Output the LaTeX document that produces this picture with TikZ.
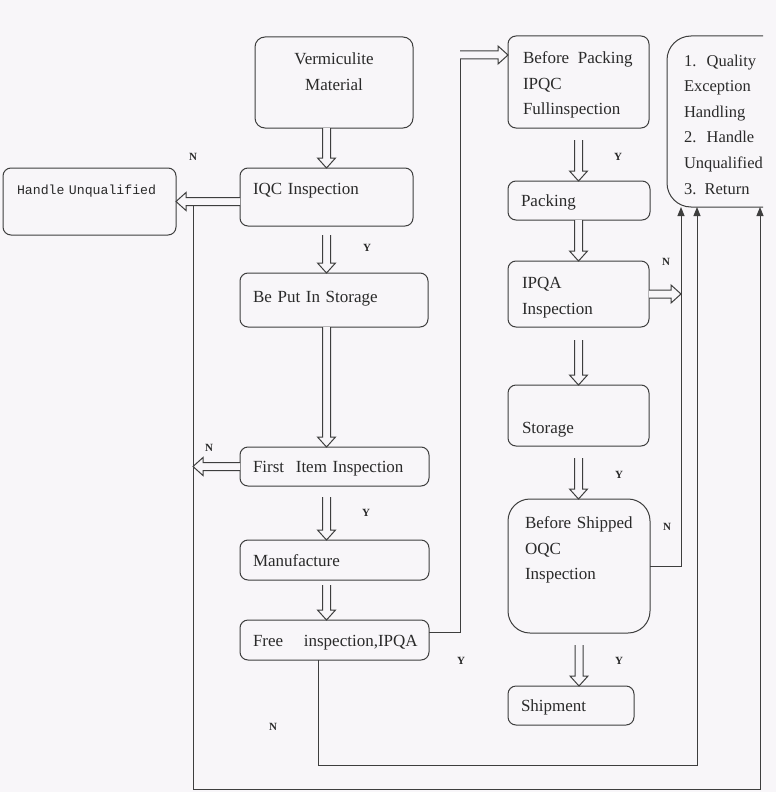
\documentclass[tikz,border=0pt]{standalone}
\usepackage{fontspec}
\setmainfont{Liberation Serif}
\newfontfamily\monof{Liberation Mono}
\usetikzlibrary{calc,arrows.meta}
\definecolor{bgc}{HTML}{F8F6F9}
\definecolor{linec}{HTML}{3E3E3E}
\definecolor{txtc}{HTML}{2A2A2A}
\newcommand{\arrsw}{4pt}
\newcommand{\arrhw}{9pt}
\newcommand{\arrhl}{10pt}
\begin{document}
\begin{tikzpicture}[x=1pt,y=-1pt,
  box/.style={draw=linec, line width=1pt, rounded corners=8pt, anchor=north west,
    inner ysep=0pt, outer sep=0pt, align=left, text=txtc,
    font=\fontsize{17}{25.5}\selectfont},
  lab/.style={font=\fontsize{11}{12}\selectfont\bfseries, text=txtc, inner sep=0pt},
  conn/.style={draw=linec, line width=1pt},
  tip/.style={-{Triangle[length=9pt,width=7pt]}},
  harrow/.style={draw=linec, line width=1pt, fill=bgc, line join=miter, to path={
    let \p1=(\tikztostart), \p2=(\tikztotarget), \p3=($(\p2)-(\p1)$),
        \n1={veclen(\x3,\y3)}, \n2={atan2(\y3,\x3)} in
    ($(\p1)+(\n2+90:\arrsw)$)
    -- ($(\p1)+(\n2:{\n1*1pt-\arrhl})+(\n2+90:\arrsw)$)
    -- ($(\p1)+(\n2:{\n1*1pt-\arrhl})+(\n2+90:\arrhw)$)
    -- (\p2)
    -- ($(\p1)+(\n2:{\n1*1pt-\arrhl})+(\n2-90:\arrhw)$)
    -- ($(\p1)+(\n2:{\n1*1pt-\arrhl})+(\n2-90:\arrsw)$)
    -- ($(\p1)+(\n2-90:\arrsw)$)}}
]
\useasboundingbox (0,0) rectangle (776,792);
\fill[bgc] (0,0) rectangle (776,792);

% left column
\node[box, rounded corners=10pt, align=center, inner xsep=4pt, text width=150pt,
  text height=27.5pt, text depth=63.5pt] (verm) at (255,37) {Vermiculite\\Material};
\node[box, inner xsep=13pt, text width=147pt, text height=26.5pt, text depth=31.5pt]
  (iqc) at (240,168) {IQC Inspection};
\node[box, inner xsep=14pt, text width=145pt, text height=26.5pt, text depth=40.5pt,
  font=\monof\fontsize{13.2}{16}\selectfont] (hu) at (3,168) {Handle Unqualified};
\node[box, inner xsep=13pt, text width=162pt, text height=29.5pt, text depth=24.5pt]
  (stor) at (240,273) {Be Put In Storage};
\node[box, inner xsep=13pt, text width=163pt, text height=25.5pt, text depth=13.5pt]
  (first) at (240,447) {\mbox{First\hspace{6pt} Item Inspection}};
\node[box, inner xsep=13pt, text width=163pt, text height=26.5pt, text depth=13.5pt]
  (manu) at (240,540) {Manufacture};
\node[box, inner xsep=13pt, text width=163pt, text height=26.5pt, text depth=13.5pt]
  (free) at (240,620) {\mbox{Free\hspace{15pt} inspection,IPQA}};

% right column
\node[box, inner xsep=15pt, text width=111pt, text height=27.5pt, text depth=64.5pt]
  (bp) at (508,36) {\mbox{Before\hspace{3pt} Packing}\\IPQC\\Fullinspection};
\node[box, inner xsep=13pt, text width=116pt, text height=25.5pt, text depth=13.5pt]
  (pack) at (508,181) {Packing};
\node[box, inner xsep=14pt, text width=113pt, text height=27.5pt, text depth=38.5pt]
  (ipqa) at (508,261) {IPQA\\Inspection};
\node[box, inner xsep=14pt, text width=113pt, text height=48.5pt, text depth=12.5pt]
  (fstor) at (508,385) {Storage};
\node[box, rounded corners=22pt, inner xsep=17pt, text width=108pt, text height=29.5pt,
  text depth=104.5pt] (oqc) at (508,499) {\mbox{Before Shipped}\\OQC\\Inspection};
\node[box, inner xsep=13pt, text width=100pt, text height=25.5pt, text depth=13.5pt]
  (ship) at (508,686) {Shipment};

\begin{scope}
\clip (0,0) rectangle (763,792);
\node[box, rounded corners=24pt, inner xsep=17pt, text width=106pt, text height=30.5pt,
  text depth=140.5pt, font=\fontsize{16.5}{25.5}\selectfont]
  (qual) at (667,36) {\mbox{1.\hspace{2pt} Quality}\\Exception\\Handling\\\mbox{2.\hspace{2pt} Handle}\\Unqualified\\3. Return};
\end{scope}

% coordinates for free ends
\coordinate (lt) at (193,206);
\coordinate (lb) at (193,789);
\coordinate (rb) at (760,789);
\coordinate (q1) at (681,207);
\coordinate (q2) at (697,207);
\coordinate (q3) at (760,207);
\coordinate (fb) at (318,765);
\coordinate (fr) at (460,632);
\coordinate (up) at (460,55);

% thin connectors
\draw[conn, tip] (lt) -- (lb) -- (rb) -- (q3);
\draw[conn, tip] (free.south -| fb) -- (fb) -- (fb -| q2) -- (q2);
\draw[conn, tip] (oqc.east) -- (oqc.east -| q1) -- (q1);
\draw[conn] (fr -| free.east) -- (fr) -- (up);

% hollow block arrows
\draw[harrow] (verm.south -| iqc.north) to (iqc.north);
\draw[harrow] ($(iqc.south)+(0,9)$) to (stor.north -| iqc.south);
\draw[harrow] (stor.south -| iqc.south) to (first.north -| iqc.south);
\draw[harrow] ($(first.south -| iqc.south)+(0,11)$) to (manu.north -| iqc.south);
\draw[harrow] ($(manu.south -| iqc.south)+(0,5)$) to (free.north -| iqc.south);
\draw[harrow] (iqc.west |- hu.east) to (hu.east);
\draw[harrow] (first.west) to (first.west -| lt);
\draw[harrow] (up) to (up -| bp.west);
\draw[harrow] ($(bp.south)+(0,12)$) to (pack.north -| bp.south);
\draw[harrow] (pack.south -| bp.south) to (ipqa.north -| bp.south);
\draw[harrow] ($(ipqa.south)+(0,13)$) to (fstor.north);
\draw[harrow] ($(fstor.south)+(0,12)$) to (oqc.north -| fstor.south);
\draw[harrow] ($(oqc.south)+(0,12)$) to (ship.north -| oqc.south);
\draw[harrow] (ipqa.east) to (ipqa.east -| q1);

% Y / N labels
\node[lab] (n1) at (193,157) {N};
\node[lab] (y1) at (367,248) {Y};
\node[lab] (n2) at (209,448) {N};
\node[lab] (y2) at (366,513) {Y};
\node[lab] (y3) at (461,661) {Y};
\node[lab] (n3) at (273,727) {N};
\node[lab] (y4) at (618,157) {Y};
\node[lab] (n4) at (666,262) {N};
\node[lab] (y5) at (619,475) {Y};
\node[lab] (n5) at (667,527) {N};
\node[lab] (y6) at (619,661) {Y};
\end{tikzpicture}
\end{document}
